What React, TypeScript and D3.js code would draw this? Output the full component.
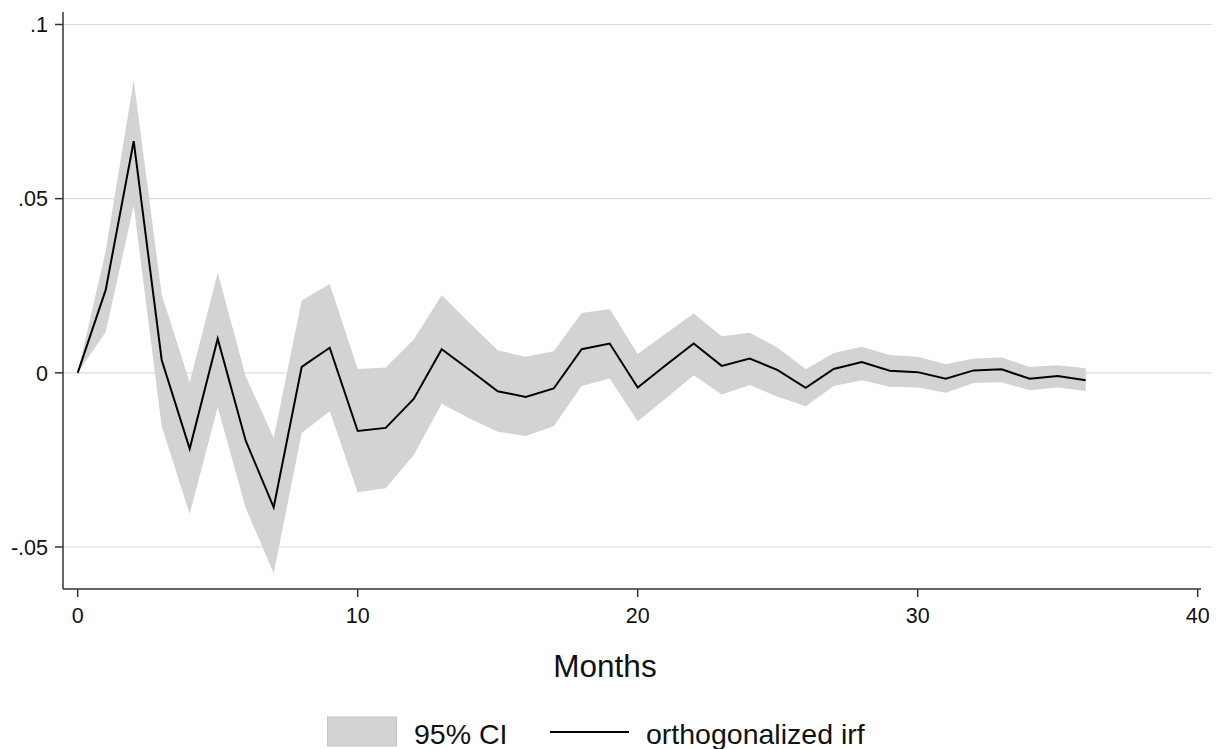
import React from "react";
import * as d3 from "d3";

const months: number[] = d3.range(0, 37);
const irf: number[] = [0, 0.0238, 0.0665, 0.0037, -0.0218, 0.0098, -0.0195, -0.0386, 0.0017, 0.0072, -0.0167, -0.0158, -0.0075, 0.0068, 0.0008, -0.0053, -0.0069, -0.0045, 0.0068, 0.0084, -0.0042, 0.0022, 0.0084, 0.002, 0.0041, 0.0008, -0.0043, 0.0011, 0.0031, 0.0006, 0.0002, -0.0017, 0.0007, 0.001, -0.0017, -0.0009, -0.0021];
const upper: number[] = [0, 0.035, 0.084, 0.0225, -0.0028, 0.0287, -0.001, -0.0187, 0.0208, 0.0255, 0.0011, 0.0015, 0.0096, 0.0223, 0.0142, 0.0065, 0.0046, 0.0062, 0.0172, 0.0183, 0.0054, 0.0113, 0.017, 0.0105, 0.0115, 0.0072, 0.001, 0.0057, 0.0075, 0.0051, 0.0046, 0.0025, 0.0041, 0.0044, 0.0017, 0.0022, 0.0013];
const lower: number[] = [0, 0.0117, 0.048, -0.0153, -0.0405, -0.0099, -0.0388, -0.0575, -0.0173, -0.011, -0.0343, -0.0331, -0.0236, -0.0089, -0.0131, -0.0169, -0.0181, -0.0153, -0.0038, -0.0016, -0.0139, -0.0074, -0.0007, -0.0062, -0.0035, -0.0069, -0.0096, -0.0038, -0.0021, -0.004, -0.0042, -0.0057, -0.0029, -0.0027, -0.005, -0.0042, -0.0052];
const xTicks: number[] = [0, 10, 20, 30, 40];
const yTicks: number[] = [-0.05, 0, 0.05, 0.1];
const yTickLabels: string[] = ["-.05", "0", ".05", ".1"];
const xTitle = "Months";
const legendLabels: string[] = ["95% CI", "orthogonalized irf"];

const FONT = "'Liberation Sans', Arial, sans-serif";

export default function App() {
  const W = 1220, H = 749;
  const x = d3.scaleLinear().domain([0, 40]).range([77.7, 1197.7]);
  const y = d3.scaleLinear().domain([-0.05, 0.1]).range([547, 24.5]);
  const axisX = 63, axisY = 589, plotRight = 1212, axisTop = 12;

  const band = d3.area<number>()
    .x((d) => x(d))
    .y0((d) => y(lower[d]))
    .y1((d) => y(upper[d]));
  const line = d3.line<number>()
    .x((d) => x(d))
    .y((d) => y(irf[d]));

  return (
    <svg width={W} height={H} style={{ position: "absolute", left: 0, top: 0, display: "block", background: "#fff" }} fontFamily={FONT}>
      {yTicks.map((t) => (
        <line key={"g" + t} x1={axisX} x2={plotRight} y1={y(t)} y2={y(t)} stroke="#dcdcdc" strokeWidth={1.2} />
      ))}
      <path d={band(months) || ""} fill="#d3d3d3" stroke="none" />
      <path d={line(months) || ""} fill="none" stroke="#000" strokeWidth={2} strokeLinejoin="miter" />
      <line x1={axisX} x2={axisX} y1={axisTop} y2={axisY} stroke="#333" strokeWidth={1.5} />
      <line x1={axisX} x2={1201} y1={axisY} y2={axisY} stroke="#333" strokeWidth={1.5} />
      {yTicks.map((t, i) => (
        <g key={"y" + t}>
          <line x1={axisX - 8} x2={axisX} y1={y(t)} y2={y(t)} stroke="#333" strokeWidth={1.5} />
          <text x={48} y={y(t)} dy="0.36em" textAnchor="end" fontSize={21.5} fill="#111">{yTickLabels[i]}</text>
        </g>
      ))}
      {xTicks.map((t) => (
        <g key={"x" + t}>
          <line x1={x(t)} x2={x(t)} y1={axisY} y2={axisY + 8} stroke="#333" strokeWidth={1.5} />
          <text x={x(t)} y={623} textAnchor="middle" fontSize={21.5} fill="#111">{t}</text>
        </g>
      ))}
      <text x={605} y={677} textAnchor="middle" fontSize={31.5} fill="#111">{xTitle}</text>
      <rect x={327.5} y={717} width={69} height={29} fill="#d3d3d3" stroke="#c4c4c4" strokeWidth={1} />
      <text x={414} y={744} fontSize={28.5} fill="#111">{legendLabels[0]}</text>
      <line x1={550} x2={629} y1={732} y2={732} stroke="#000" strokeWidth={2} />
      <text x={646} y={744} fontSize={28.5} fill="#111">{legendLabels[1]}</text>
    </svg>
  );
}
